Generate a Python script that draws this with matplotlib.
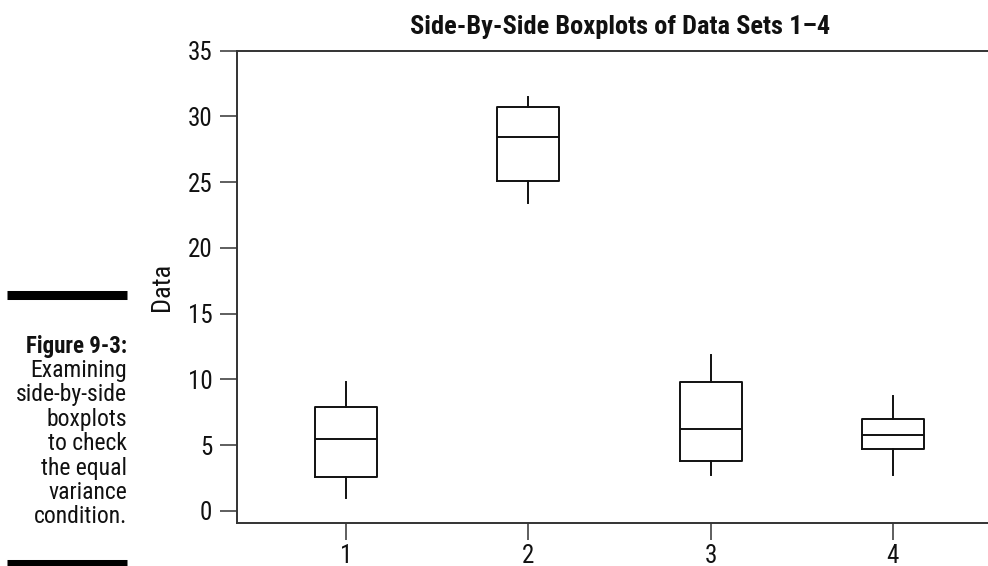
import matplotlib
matplotlib.use("Agg")
import matplotlib.pyplot as plt
from matplotlib import font_manager
from matplotlib.lines import Line2D

names = {f.name for f in font_manager.fontManager.ttflist}
FAM = ['Liberation Sans Narrow'] if 'Liberation Sans Narrow' in names else ['Roboto Condensed', 'Liberation Sans']
plt.rcParams['font.family'] = FAM + ['DejaVu Sans']

# Data
categories = ['1', '2', '3', '4']
whislo = [1.0, 23.4, 2.75, 2.75]
q1 = [2.56, 25.1, 3.8, 4.67]
med = [5.43, 28.4, 6.2, 5.78]
q3 = [7.91, 30.75, 9.8, 7.0]
whishi = [9.77, 31.5, 11.85, 8.73]
yticks = [0, 5, 10, 15, 20, 25, 30, 35]

title = 'Side-By-Side Boxplots of Data Sets 1\u20134'
ylabel = 'Data'
caption_head = 'Figure 9-3:'
caption_lines = ['Examining', 'side-by-side', 'boxplots', 'to check', 'the equal', 'variance', 'condition.']

W, H = 988, 566
fig = plt.figure(figsize=(W / 100, H / 100), dpi=100)
ax = fig.add_axes([237.3 / W, (H - 522.7) / H, (1003 - 237.3) / W, (522.7 - 50.7) / H])

stats = []
for i, c in enumerate(categories):
    stats.append(dict(label=c, whislo=whislo[i], q1=q1[i], med=med[i], q3=q3[i], whishi=whishi[i], fliers=[]))

lw = 1.4
ax.bxp(stats, positions=[1, 2, 3, 4], widths=0.34, showcaps=False, showfliers=False,
       boxprops=dict(color='#111111', linewidth=lw),
       whiskerprops=dict(color='#111111', linewidth=lw),
       medianprops=dict(color='#111111', linewidth=lw))

ax.set_xlim(0.404, 4.604)
ax.set_ylim(-0.91, 35)
ax.set_yticks(yticks)
ax.set_xticks([1, 2, 3, 4])
ax.set_xticklabels(categories)

ax.spines['right'].set_visible(False)
for s in ['left', 'top', 'bottom']:
    ax.spines[s].set_color('#333333')
    ax.spines[s].set_linewidth(1.4)

ax.tick_params(axis='both', direction='out', length=12, width=1.1, color='#333333',
               labelsize=18, labelcolor='#111111')
ax.tick_params(axis='y', pad=6)
ax.tick_params(axis='x', pad=3)

ax.set_title(title, fontsize=19, fontweight='bold', pad=12, color='#111111')
ax.set_ylabel(ylabel, fontsize=19, color='#111111', labelpad=10)

# Caption on the left
x_right = 127 / W
fig.text(x_right, 1 - 346 / H, caption_head, ha='right', va='center', fontsize=16.5, fontweight='bold', color='#111111')
for i, line in enumerate(caption_lines):
    y = 346 + 24.4 * (i + 1)
    fig.text(x_right, 1 - y / H, line, ha='right', va='center', fontsize=17, color='#111111')

# Thick bars
fig.add_artist(Line2D([7 / W, 127 / W], [1 - 294.5 / H, 1 - 294.5 / H], color='black', linewidth=6.5,
                      solid_capstyle='butt', transform=fig.transFigure))
fig.add_artist(Line2D([7 / W, 127 / W], [1 - 564 / H, 1 - 564 / H], color='black', linewidth=6.5,
                      solid_capstyle='butt', transform=fig.transFigure))

fig.savefig('out.png', dpi=100)
